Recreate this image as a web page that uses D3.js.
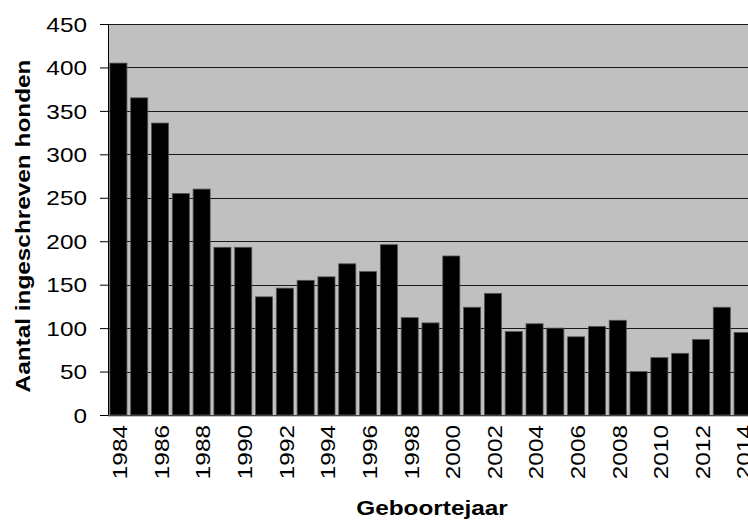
<!DOCTYPE html>
<html><head><meta charset="utf-8">
<script src="https://cdn.jsdelivr.net/npm/d3@7"></script>
<style>html,body{margin:0;padding:0;background:#fff;overflow:hidden}</style>
</head><body>
<svg id="c" width="748" height="520"></svg>
<script>
const years = d3.range(1984, 2015).map(String);
const counts = [405,365,336,255,260,193,193,136,146,155,159,174,165,196,112,106,183,124,140,96,105,100,90,102,109,50,66,71,87,124,95];
const yTicks = [0,50,100,150,200,250,300,350,400,450];
const xLabels = years.filter((d,i)=>i%2===0);
const yTitle = "Aantal ingeschreven honden";
const xTitle = "Geboortejaar";

(function(){
const svg = d3.select("#c");
const FONT = "Liberation Sans, Arial, sans-serif";
const SX = 1.16;
const pL = 108, pR = 753, pT = 24, pB = 415;
const x = d3.scaleBand().domain(years).range([pL, pR]).paddingInner(0.18).paddingOuter(0.09);
const y = d3.scaleLinear().domain([0,450]).range([pB, pT]);

svg.append("rect").attr("x", pL).attr("y", pT).attr("width", pR-pL).attr("height", pB-pT+2).attr("fill", "#c0c0c0");

svg.append("g").selectAll("line").data(yTicks.filter(d=>d>0)).join("line")
  .attr("x1", pL).attr("x2", pR).attr("y1", d=>Math.round(y(d))+0.5).attr("y2", d=>Math.round(y(d))+0.5)
  .attr("stroke", "#1a1a1a").attr("stroke-width", 1);

svg.append("g").selectAll("rect").data(counts).join("rect")
  .attr("x", (d,i)=>x(years[i])).attr("width", x.bandwidth())
  .attr("y", d=>y(d)).attr("height", d=>pB - y(d))
  .attr("fill", "#000").attr("stroke", "#555").attr("stroke-width", 0.8);

const ya = svg.append("g").attr("transform", `translate(${pL},0)`)
  .call(d3.axisLeft(y).tickValues(yTicks).tickSize(8).tickPadding(13));
ya.select(".domain").attr("stroke", "#000");
ya.selectAll(".tick line").attr("stroke", "#000");
ya.selectAll("text").attr("font-family", FONT).attr("font-size", 21).attr("fill", "#000")
  .attr("x", 0).attr("dy", "0.34em").attr("text-anchor", "end")
  .attr("transform", `translate(-21,0) scale(${SX},1)`);

const xa = svg.append("g").attr("transform", `translate(0,${pB})`)
  .call(d3.axisBottom(x).tickValues(xLabels).tickSize(0).tickPadding(0));
xa.select(".domain").attr("stroke", "#444").attr("d", `M${pL},0.5H${pR}`);
xa.selectAll("text")
  .attr("font-family", FONT).attr("font-size", 21).attr("fill", "#000")
  .attr("transform", `translate(1.5,10) rotate(-90) scale(${SX},1)`).attr("text-anchor", "end")
  .attr("x", 0).attr("y", 0).attr("dy", "0.35em");

svg.append("text").attr("transform", `translate(30,226) rotate(-90) scale(${SX},1)`)
  .attr("text-anchor", "middle").attr("font-family", FONT)
  .attr("font-weight", "bold").attr("font-size", 21).text(yTitle);
svg.append("text").attr("transform", `translate(432,515) scale(${SX},1)`)
  .attr("text-anchor", "middle").attr("font-family", FONT)
  .attr("font-weight", "bold").attr("font-size", 21).text(xTitle);
})();
</script>
</body></html>
